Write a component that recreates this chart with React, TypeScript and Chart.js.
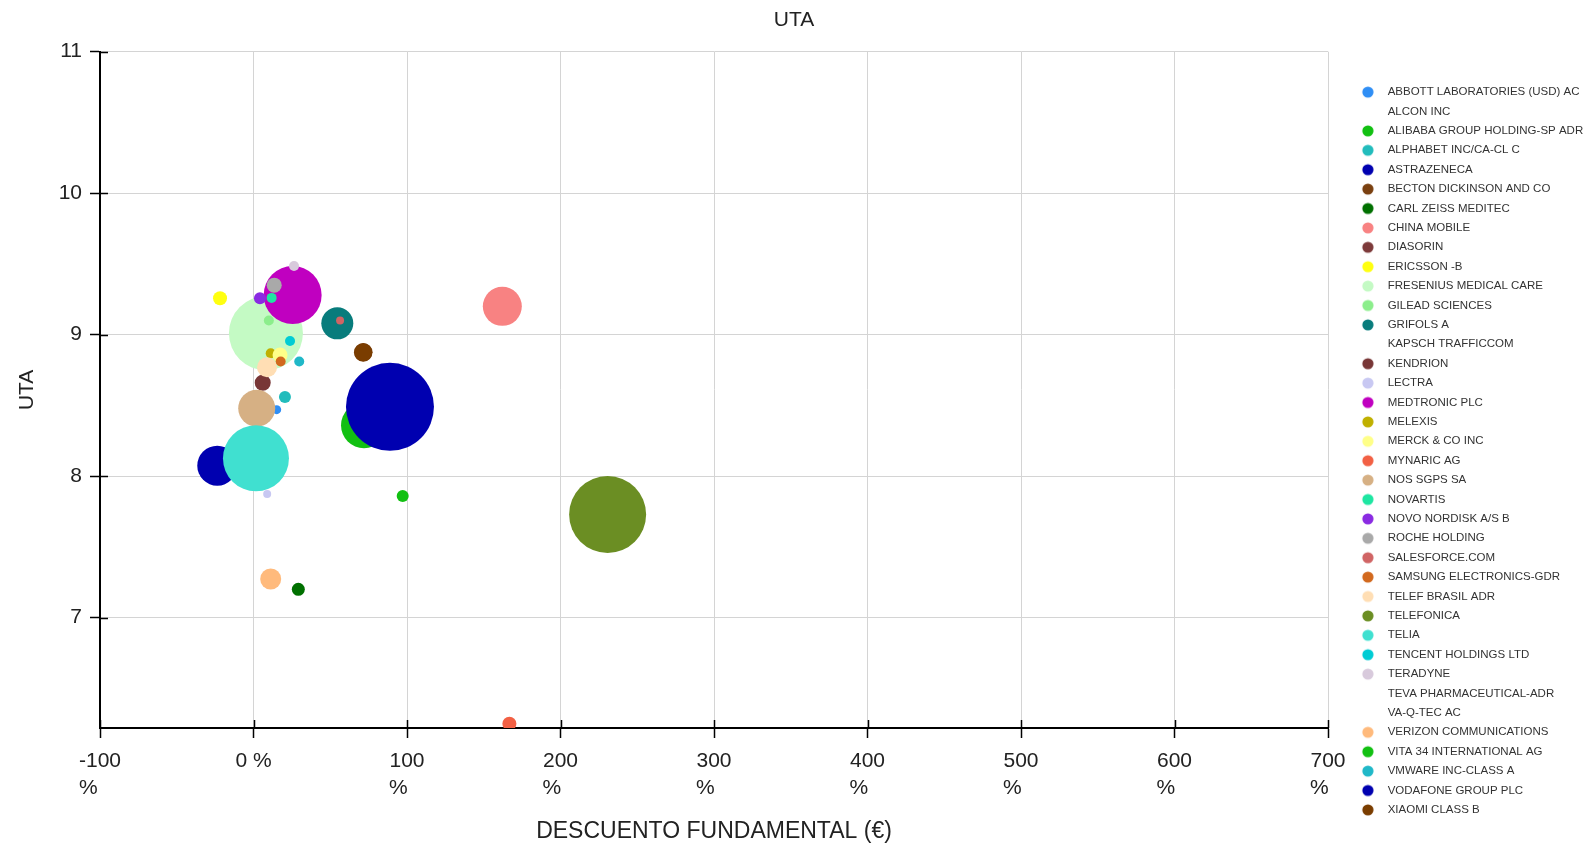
import React, { useEffect, useRef } from 'react';
import { Chart, registerables } from 'chart.js';

Chart.register(...registerables);

const FONT = "'Liberation Sans', Arial, Helvetica, sans-serif";

const companies: string[] = [
  'ABBOTT LABORATORIES (USD) AC',
  'ALCON INC',
  'ALIBABA GROUP HOLDING-SP ADR',
  'ALPHABET INC/CA-CL C',
  'ASTRAZENECA',
  'BECTON DICKINSON AND CO',
  'CARL ZEISS MEDITEC',
  'CHINA MOBILE',
  'DIASORIN',
  'ERICSSON -B',
  'FRESENIUS MEDICAL CARE',
  'GILEAD SCIENCES',
  'GRIFOLS A',
  'KAPSCH TRAFFICCOM',
  'KENDRION',
  'LECTRA',
  'MEDTRONIC PLC',
  'MELEXIS',
  'MERCK & CO INC',
  'MYNARIC AG',
  'NOS SGPS SA',
  'NOVARTIS',
  'NOVO NORDISK A/S B',
  'ROCHE HOLDING',
  'SALESFORCE.COM',
  'SAMSUNG ELECTRONICS-GDR',
  'TELEF BRASIL ADR',
  'TELEFONICA',
  'TELIA',
  'TENCENT HOLDINGS LTD',
  'TERADYNE',
  'TEVA PHARMACEUTICAL-ADR',
  'VA-Q-TEC AC',
  'VERIZON COMMUNICATIONS',
  'VITA 34 INTERNATIONAL AG',
  'VMWARE INC-CLASS A',
  'VODAFONE GROUP PLC',
  'XIAOMI CLASS B',
];

const colors: (string | null)[] = [
  '#2f8ef5', null, '#12c012', '#22bcbc', '#0000b0', '#7a4010', '#007000', '#f88282',
  '#7d3a3a', '#ffff10', '#c4fac4', '#8cee8c', '#087c7c', null, '#783636', '#c8c8f2',
  '#c000c0', '#c0b000', '#ffff88', '#f26044', '#d6b084', '#1ee6a2', '#8a2be2', '#a9a9a9',
  '#d06464', '#d2691e', '#ffdeb4', '#6b8e23', '#40e0d0', '#00ccd4', '#d8cadc', null,
  null, '#ffba7c', '#12c012', '#20b8c8', '#0000b0', '#7a3d00',
];

// DESCUENTO FUNDAMENTAL (%)
const descuento: (number | null)[] = [
  15.1, null, 72, 20.5, -23.6, 71.5, 29.2, 162.1,
  6, -21.8, 8.1, 10, 54.6, null, 6, 8.9,
  25.5, 11.2, 17.3, 166.7, 2.1, 11.8, 4.2, 13.5,
  56.4, 17.7, 8.8, 230.7, 1.6, 23.8, 26.4, null,
  null, 11.2, 97.2, 29.8, 88.9, 71.5,
];

// UTA
const uta: (number | null)[] = [
  8.47, null, 8.36, 8.56, 8.074, 8.875, 7.2, 9.2,
  8.66, 9.257, 9.01, 9.1, 9.08, null, 8.66, 7.874,
  9.28, 8.868, 8.856, 6.25, 8.48, 9.26, 9.257, 9.35,
  9.1, 8.81, 8.77, 7.729, 8.126, 8.955, 9.485, null,
  null, 7.273, 7.86, 8.81, 8.49, 8.875,
];

// bubble radius
const sizes: (number | null)[] = [
  4.5, null, 23, 6, 20, 9.3, 6.5, 19.5,
  7, 7, 37, 5, 16, null, 8, 4,
  29, 5, 7.5, 7, 18.5, 5, 6, 7.5,
  4, 5, 10, 38.5, 33, 5, 5, null,
  null, 10.5, 6, 5, 44, 9,
];

const xTicks = [-100, 0, 100, 200, 300, 400, 500, 600, 700];
const yTicks = [7, 8, 9, 10, 11];
const xMin = -100;
const xMax = 700;
const yMin = 6.22;
const yMax = 11;

function markerImage(color: string | null): HTMLCanvasElement {
  const c = document.createElement('canvas');
  c.width = 46;
  c.height = 14;
  const g = c.getContext('2d');
  if (g && color) {
    g.fillStyle = color;
    g.beginPath();
    g.arc(32, 7, 5.6, 0, Math.PI * 2);
    g.fill();
  }
  return c;
}

const innerTicks = {
  id: 'innerTicks',
  afterDraw(chart: any) {
    const { ctx, chartArea, scales } = chart;
    ctx.save();
    ctx.strokeStyle = '#000';
    ctx.lineWidth = 1.5;
    ctx.beginPath();
    scales.x.ticks.forEach((t: any) => {
      const px = Math.round(scales.x.getPixelForValue(t.value)) + 0.5;
      ctx.moveTo(px, chartArea.bottom);
      ctx.lineTo(px, chartArea.bottom - 8);
    });
    scales.y.ticks.forEach((t: any) => {
      const py = Math.round(scales.y.getPixelForValue(t.value)) + 0.5;
      ctx.moveTo(chartArea.left, py);
      ctx.lineTo(chartArea.left + 8, py);
    });
    ctx.stroke();
    ctx.restore();
  },
};

export default function App() {
  const ref = useRef<HTMLCanvasElement | null>(null);

  useEffect(() => {
    if (!ref.current) return;
    const markers = colors.map((c) => markerImage(c));
    const datasets = companies.map((name, i) => ({
      label: name,
      data:
        descuento[i] == null
          ? []
          : [{ x: descuento[i] as number, y: uta[i] as number, r: sizes[i] as number }],
      backgroundColor: colors[i] ?? 'rgba(0,0,0,0)',
      borderWidth: 0,
      order: -i,
    }));

    const chart = new Chart(ref.current, {
      type: 'bubble',
      data: { datasets },
      plugins: [innerTicks],
      options: {
        animation: false,
        responsive: true,
        maintainAspectRatio: false,
        devicePixelRatio: 1,
        events: [],
        layout: { padding: 0 },
        plugins: {
          tooltip: { enabled: false },
          title: {
            display: true,
            text: 'UTA',
            color: '#222',
            font: { family: FONT, size: 21, weight: 'normal' },
            padding: { top: 8, bottom: 18.5 },
          },
          legend: {
            position: 'right',
            align: 'center',
            maxWidth: 260,
            title: {
              display: true,
              text: ' ',
              font: { family: FONT, size: 10, lineHeight: 1 },
              padding: { top: 44, bottom: 0 },
            },
            labels: {
              color: '#333',
              font: { family: FONT, size: 11.5 },
              padding: 7.9,
              usePointStyle: true,
              pointStyleWidth: 46,
              sort: (a: any, b: any) => a.datasetIndex - b.datasetIndex,
              generateLabels: (ch: any) => {
                const items = Chart.defaults.plugins.legend.labels.generateLabels(ch);
                return items.map((it: any) => ({ ...it, pointStyle: markers[it.datasetIndex] }));
              },
            },
          },
        },
        scales: {
          x: {
            type: 'linear',
            position: 'bottom',
            min: xMin,
            max: xMax,
            afterBuildTicks: (s: any) => {
              s.ticks = xTicks.map((v) => ({ value: v }));
            },
            afterFit: (s: any) => {
              s.height = 120;
            },
            ticks: {
              color: '#222',
              font: { family: FONT, size: 21, lineHeight: 1.29 },
              padding: 10,
              maxRotation: 0,
              autoSkip: false,
              callback: (v: any) => {
                const n = Number(v);
                if (n === 0) return '0 %';
                const pad = n < 0 ? '    ' : '   ';
                return [String(n), '%' + pad];
              },
            },
            grid: { color: '#d4d4d4', tickColor: '#000', tickLength: 10, tickWidth: 1.5, lineWidth: 1 },
            border: { color: '#000', width: 2 },
            title: {
              display: true,
              text: 'DESCUENTO FUNDAMENTAL (€)',
              color: '#222',
              font: { family: FONT, size: 23 },
              padding: { top: 0, bottom: 2.5 },
            },
          },
          y: {
            type: 'linear',
            min: yMin,
            max: yMax,
            afterBuildTicks: (s: any) => {
              s.ticks = yTicks.map((v) => ({ value: v }));
            },
            afterFit: (s: any) => {
              s.width = 100;
            },
            ticks: {
              color: '#222',
              font: { family: FONT, size: 21 },
              padding: 8,
            },
            grid: { color: '#d4d4d4', tickColor: '#000', tickLength: 10, tickWidth: 1.5, lineWidth: 1 },
            border: { color: '#000', width: 2 },
            title: {
              display: true,
              text: 'UTA',
              color: '#222',
              font: { family: FONT, size: 21 },
              padding: { top: 14.7, bottom: 0 },
            },
          },
        },
      } as any,
    });
    return () => chart.destroy();
  }, []);

  return (
    <div style={{ position: 'fixed', left: 0, top: 0, width: 1588, height: 848, background: '#fff' }}>
      <canvas ref={ref} />
    </div>
  );
}
